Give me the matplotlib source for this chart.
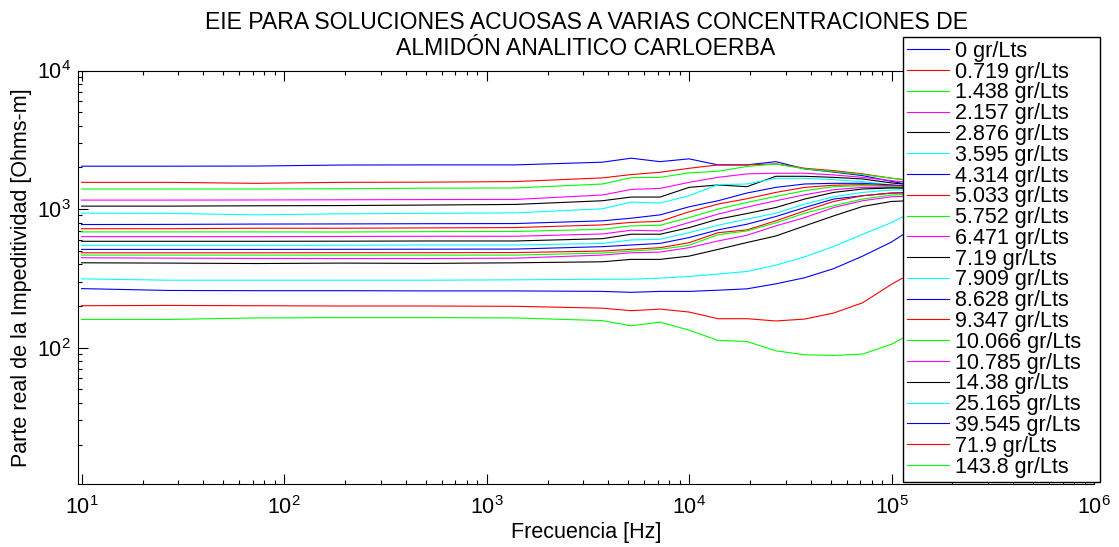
import matplotlib
matplotlib.use("Agg")
import matplotlib.pyplot as plt
from matplotlib.ticker import LogLocator, NullFormatter

plt.rcParams['font.family'] = ['Liberation Sans', 'DejaVu Sans']
plt.rcParams['mathtext.fontset'] = 'custom'
plt.rcParams['mathtext.rm'] = 'Liberation Sans'

# Measurement frequencies [Hz]
freq = [10, 26.8, 72, 193, 518, 1389, 3728, 5179, 7197, 10000, 13895,
        19307, 26827, 37276, 51795, 71969, 100000, 138950]

# Real part of the impedivity [Ohms-m] for each starch concentration
c_0000 = [2040, 2040, 2045, 2080, 2085, 2085, 2180, 2330, 2200, 2305, 2085, 2085, 2200, 1950, 1850, 1745, 1585, 1450]
c_0719 = [1560, 1560, 1535, 1560, 1565, 1580, 1680, 1775, 1845, 1970, 2085, 2085, 2120, 1970, 1895, 1795, 1670, 1580]
c_1438 = [1397, 1397, 1397, 1404, 1416, 1421, 1517, 1687, 1695, 1825, 1875, 2030, 2120, 1950, 1865, 1775, 1670, 1590]
c_2157 = [1162, 1162, 1164, 1168, 1172, 1174, 1264, 1387, 1411, 1560, 1695, 1795, 1815, 1815, 1765, 1695, 1605, 1527]
c_2876 = [1051, 1051, 1057, 1061, 1070, 1081, 1149, 1222, 1222, 1435, 1494, 1452, 1725, 1725, 1695, 1650, 1545, 1476]
c_3595 = [935, 932, 909, 925, 932, 940, 1005, 1124, 1106, 1249, 1501, 1518, 1668, 1668, 1632, 1579, 1494, 1428]
c_4314 = [774, 776, 780, 782, 785, 787, 823, 860, 909, 1039, 1149, 1306, 1435, 1518, 1535, 1535, 1494, 1452]
c_5033 = [722, 722, 728, 728, 732, 736, 769, 802, 816, 956, 1087, 1188, 1320, 1435, 1488, 1501, 1476, 1440]
c_5752 = [685, 685, 685, 684, 688, 690, 715, 757, 765, 869, 1000, 1117, 1235, 1358, 1452, 1476, 1458, 1428]
c_6471 = [633, 633, 633, 635, 637, 637, 662, 704, 696, 800, 920, 1034, 1149, 1270, 1380, 1435, 1435, 1416]
c_7190 = [586, 586, 586, 587, 589, 589, 612, 659, 659, 735, 846, 929, 1027, 1182, 1320, 1397, 1421, 1411]
c_7909 = [548, 548, 548, 549, 551, 551, 565, 599, 606, 676, 765, 846, 935, 1087, 1228, 1320, 1374, 1380]
c_8628 = [512, 512, 512, 513, 514, 515, 536, 551, 566, 623, 708, 778, 884, 1027, 1182, 1249, 1306, 1320]
c_9347 = [484, 484, 484, 485, 485, 486, 498, 513, 527, 572, 676, 708, 823, 972, 1136, 1249, 1306, 1320]
c_10066 = [466, 466, 466, 466, 466, 466, 482, 498, 513, 548, 654, 696, 796, 935, 1057, 1182, 1264, 1285]
c_10785 = [446, 443, 441, 440, 440, 443, 466, 484, 490, 527, 589, 648, 757, 869, 1027, 1149, 1228, 1249]
c_14380 = [410, 408, 405, 408, 406, 410, 417, 434, 434, 458, 512, 574, 640, 757, 894, 1045, 1136, 1158]
c_25165 = [314, 307, 307, 307, 307, 309, 312, 312, 318, 327, 340, 355, 394, 453, 538, 658, 800, 1030]
c_39545 = [267, 259, 258, 258, 257, 257, 255, 251, 255, 255, 260, 266, 289, 320, 372, 458, 579, 790]
c_71900 = [201, 202, 201, 200, 200, 199, 193, 185, 190, 181, 162, 162, 156, 161, 178, 211, 287, 375]
c_143800 = [160, 160, 164, 165, 165, 164, 157, 144, 153, 134, 113, 111, 95, 89, 88, 90, 106, 138]

series = [c_0000, c_0719, c_1438, c_2157, c_2876, c_3595, c_4314, c_5033,
          c_5752, c_6471, c_7190, c_7909, c_8628, c_9347, c_10066, c_10785,
          c_14380, c_25165, c_39545, c_71900, c_143800]
labels = ['0 gr/Lts', '0.719 gr/Lts', '1.438 gr/Lts', '2.157 gr/Lts',
          '2.876 gr/Lts', '3.595 gr/Lts', '4.314 gr/Lts', '5.033 gr/Lts',
          '5.752 gr/Lts', '6.471 gr/Lts', '7.19 gr/Lts', '7.909 gr/Lts',
          '8.628 gr/Lts', '9.347 gr/Lts', '10.066 gr/Lts', '10.785 gr/Lts',
          '14.38 gr/Lts', '25.165 gr/Lts', '39.545 gr/Lts', '71.9 gr/Lts',
          '143.8 gr/Lts']
title_lines = ['EIE PARA SOLUCIONES ACUOSAS A VARIAS CONCENTRACIONES DE',
               'ALMIDÓN ANALITICO CARLOERBA']
cycle = ['#0000ff', '#ff0000', '#00ff00', '#ff00ff', '#000000', '#00ffff']

W, H = 1119, 547
fig = plt.figure(figsize=(W / 100, H / 100), dpi=100)
ax = fig.add_axes([78 / W, (H - 484) / H, (1094 - 78) / W, (484 - 70.5) / H])

for i, (vals, lab) in enumerate(zip(series, labels)):
    ax.plot(freq, vals, color=cycle[i % len(cycle)], lw=0.8, label=lab)

ax.set_xscale('log')
ax.set_yscale('log')
ax.set_xlim(9.6, 1e6)
ax.set_ylim(10.4, 1e4)

ax.xaxis.set_major_locator(LogLocator(base=10, numticks=10))
ax.yaxis.set_major_locator(LogLocator(base=10, numticks=10))
ax.xaxis.set_minor_locator(LogLocator(base=10, subs=range(2, 10), numticks=20))
ax.yaxis.set_minor_locator(LogLocator(base=10, subs=range(2, 10), numticks=20))
ax.xaxis.set_minor_formatter(NullFormatter())
ax.yaxis.set_minor_formatter(NullFormatter())

ax.tick_params(which='both', direction='in', top=True, right=True,
               labelsize=15.5, width=0.8, colors='black')
ax.tick_params(which='major', length=7)
ax.tick_params(which='minor', length=3)
ax.tick_params(axis='x', which='major', pad=9)
ax.tick_params(axis='y', which='major', pad=5)
for sp in ax.spines.values():
    sp.set_linewidth(0.8)

# Two-line title, each line centred over the plot area
title_x = 586 / W
fig.text(title_x, 1 - 28.8 / H, title_lines[0], fontsize=16.6,
         ha='center', va='baseline')
fig.text(title_x, 1 - 55.3 / H, title_lines[1], fontsize=16.6,
         ha='center', va='baseline')

ax.set_xlabel('Frecuencia [Hz]', fontsize=15.5, labelpad=2)
ax.set_ylabel('Parte real de la Impeditividad [Ohms-m]', fontsize=15.5,
              labelpad=4)

leg = ax.legend(loc='upper left',
                bbox_to_anchor=(903 / W, 1 - 36.5 / H, 197 / W, 0.0),
                bbox_transform=fig.transFigure, mode='expand',
                borderaxespad=0, fontsize=15.5, frameon=True, fancybox=False,
                edgecolor='black', framealpha=1, handlelength=1.93,
                handletextpad=0.28, labelspacing=-0.01, borderpad=0.2)
leg.get_frame().set_linewidth(1.0)

fig.savefig('out.png', dpi=100)
